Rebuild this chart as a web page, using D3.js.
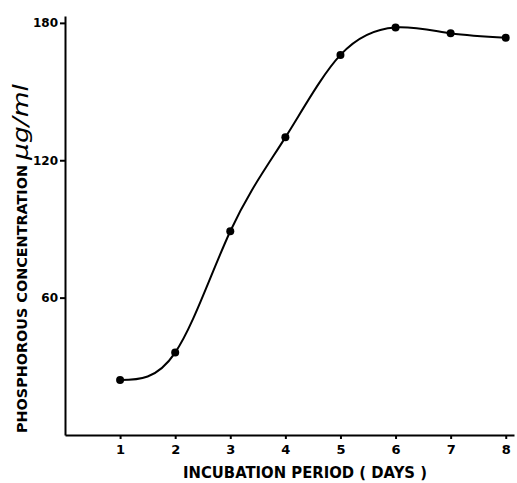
<!DOCTYPE html>
<html>
<head>
<meta charset="utf-8">
<script src="https://cdn.jsdelivr.net/npm/d3@7"></script>
<style>
	body { margin: 0; background: #fff; }
	text { font-family: "DejaVu Sans", sans-serif; fill: #000; }
	.axis path, .axis line { stroke: #000; stroke-width: 2; }
	.curve { fill: none; stroke: #000; stroke-width: 2; }
</style>
</head>
<body>
<div id="chart"></div>
<script>
const days = [1, 2, 3, 4, 5, 6, 7, 8];
const phosphorus = [24, 36, 89, 130, 166, 178, 175.5, 173.5];
const yTicks = [60, 120, 180];

const width = 517;
const height = 483;

const svg = d3.select("#chart")
	.append("svg")
	.attr("width", width)
	.attr("height", height);

const xscale = d3.scaleLinear()
	.domain([0, 8.15])
	.range([65, 514]);

const yscale = d3.scaleLinear()
	.domain([0, 183])
	.range([435, 16]);

const x_axis = d3.axisBottom()
	.scale(xscale)
	.tickValues(days)
	.tickSizeInner(4)
	.tickSizeOuter(0)
	.tickPadding(6)
	.tickFormat(d => d);

const y_axis = d3.axisLeft()
	.scale(yscale)
	.tickValues(yTicks)
	.tickSizeInner(5)
	.tickSizeOuter(0)
	.tickPadding(2)
	.tickFormat(d => d);

const gx = svg.append("g")
	.attr("class", "axis")
	.attr("transform", "translate(0," + yscale(0) + ")")
	.call(x_axis);
gx.selectAll("text")
	.attr("font-size", 13)
	.attr("font-weight", "bold");

const gy = svg.append("g")
	.attr("class", "axis")
	.attr("transform", "translate(" + xscale(0) + ",0)")
	.call(y_axis);
gy.selectAll("text")
	.attr("font-size", 12)
	.attr("font-weight", "bold");

// smooth hand-drawn style curve through the points
const line = d3.line()
	.x((d, i) => xscale(days[i]))
	.y(d => yscale(d))
	.curve(d3.curveNatural);

svg.append("path")
	.attr("class", "curve")
	.attr("d", line(phosphorus));

svg.selectAll("circle.pt")
	.data(phosphorus)
	.enter()
	.append("circle")
	.attr("class", "pt")
	.attr("cx", (d, i) => xscale(days[i]))
	.attr("cy", d => yscale(d))
	.attr("r", 4)
	.attr("fill", "#000");

// axis titles
svg.append("text")
	.attr("x", 183)
	.attr("y", 478)
	.attr("font-size", 15)
	.attr("font-weight", "bold")
	.attr("textLength", 244)
	.attr("lengthAdjust", "spacingAndGlyphs")
	.text("INCUBATION PERIOD ( DAYS )");

svg.append("text")
	.attr("transform", "translate(27,433) rotate(-90)")
	.attr("font-size", 14)
	.attr("font-weight", "bold")
	.attr("textLength", 268)
	.attr("lengthAdjust", "spacingAndGlyphs")
	.text("PHOSPHOROUS CONCENTRATION");

svg.append("text")
	.attr("transform", "translate(28,160) rotate(-90)")
	.attr("font-size", 21)
	.attr("font-style", "italic")
	.attr("textLength", 76)
	.attr("lengthAdjust", "spacingAndGlyphs")
	.text("μg/ml");
</script>
</body>
</html>
